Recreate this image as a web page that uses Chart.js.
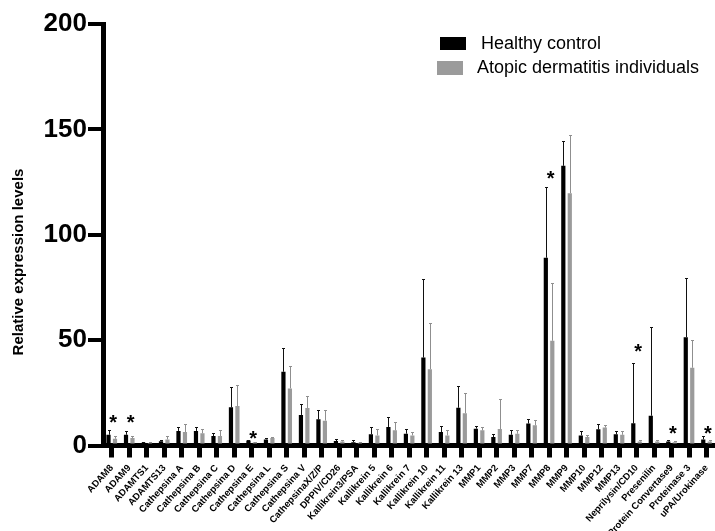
<!DOCTYPE html>
<html>
<head>
<meta charset="utf-8">
<script src="https://cdn.jsdelivr.net/npm/chart.js@4.4.1/dist/chart.umd.min.js"></script>
<style>
  html, body { margin: 0; padding: 0; background: #fff; overflow: hidden; width: 715px; height: 531px; }
  canvas { display: block; }
</style>
</head>
<body>
<canvas id="c" width="720" height="531" style="width:720px;height:531px"></canvas>
<script>
const categories = [
  "ADAM8", "ADAM9", "ADAMTS1", "ADAMTS13", "Cathepsina A", "Cathepsina B", "Cathepsina C",
  "Cathepsina D", "Cathepsina E", "Cathepsina L", "Cathepsina S", "Cathepsina V",
  "CathepsinaX/Z/P", "DPPIV/CD26", "Kallikrein3/PSA", "Kallikrein 5", "Kallikrein 6",
  "Kallikrein 7", "Kallikrein 10", "Kallikrein 11", "Kallikrein 13", "MMP1", "MMP2", "MMP3",
  "MMP7", "MMP8", "MMP9", "MMP10", "MMP12", "MMP13", "Neprilysin/CD10", "Presenilin",
  "Protein Convertase9", "Proteinase 3", "uPA/Urokinase"
];
const healthyControl = [5.1, 5.1, 1.3, 2.0, 6.9, 6.9, 4.5, 18.1, 2.4, 2.9, 35.0, 14.5, 12.4, 2.1, 1.6, 5.3, 8.8, 5.6, 41.7, 6.4, 17.9, 8.0, 4.0, 5.1, 10.4, 89.1, 132.7, 4.8, 7.7, 5.3, 10.5, 14.1, 1.9, 51.4, 2.9];
const healthyControlSD = [2.1, 1.9, 0.5, 0.5, 2.1, 2.1, 1.4, 9.5, 0.3, 0.6, 11.1, 5.1, 4.4, 1.1, 0.8, 3.5, 4.5, 2.4, 37.3, 2.9, 10.3, 1.3, 1.4, 2.1, 2.4, 33.7, 11.8, 1.9, 2.7, 1.4, 28.8, 42.0, 0.5, 28.0, 1.4];
const atopicDermatitis = [3.2, 3.5, 1.2, 2.9, 6.4, 5.8, 4.5, 18.7, 1.5, 3.5, 27.1, 17.8, 11.8, 1.9, 1.3, 4.8, 7.2, 4.8, 36.2, 4.8, 15.3, 7.2, 7.8, 5.6, 9.6, 49.7, 119.7, 4.0, 8.5, 5.1, 1.9, 1.9, 1.6, 36.9, 1.9];
const atopicDermatitisSD = [1.1, 0.8, 0.6, 1.4, 3.7, 2.2, 2.7, 10.2, 0.3, 0.5, 10.8, 5.6, 5.0, 0.7, 0.3, 3.2, 4.0, 1.6, 21.8, 2.4, 9.5, 1.8, 14.3, 1.6, 2.6, 27.3, 27.7, 1.1, 1.4, 1.6, 0.5, 0.5, 0.5, 13.2, 0.5];
// significance markers: category index and the level (axis units) of the asterisk centre
const starIndex = [0, 1, 8, 25, 30, 32, 34];
const starLevel = [13.1, 13.1, 5.9, 128.9, 47.2, 8.3, 8.3];
const yTicks = [0, 50, 100, 150, 200];

const FONT = "'Liberation Sans', Arial, Helvetica, sans-serif";
const BLACK = '#000000';
const GREY = '#9b9b9b';

const errorBars = {
  id: 'errorBars',
  afterDatasetsDraw(chart) {
    const ctx = chart.ctx;
    const y = chart.scales.y;
    const sds = [healthyControlSD, atopicDermatitisSD];
    chart.data.datasets.forEach((ds, di) => {
      const meta = chart.getDatasetMeta(di);
      ctx.save();
      ctx.strokeStyle = di === 0 ? '#111' : '#8f8f8f';
      ctx.lineWidth = 1;
      meta.data.forEach((bar, i) => {
        const v = ds.data[i];
        const top = y.getPixelForValue(v + sds[di][i]);
        const base = y.getPixelForValue(v);
        const x = Math.round(bar.x) + 0.5;
        ctx.beginPath();
        ctx.moveTo(x, base);
        ctx.lineTo(x, Math.round(top) + 0.5);
        ctx.moveTo(x - 1.5, Math.round(top) + 0.5);
        ctx.lineTo(x + 1.5, Math.round(top) + 0.5);
        ctx.stroke();
      });
      ctx.restore();
    });
    // asterisks
    const xs = chart.scales.x;
    ctx.save();
    ctx.fillStyle = '#000';
    ctx.font = 'bold 20px ' + FONT;
    ctx.textAlign = 'center';
    ctx.textBaseline = 'alphabetic';
    starIndex.forEach((ci, k) => {
      const px = xs.getPixelForValue(ci) + 1.5;
      const py = y.getPixelForValue(starLevel[k]);
      ctx.fillText('*', px, py + 11.5);
    });
    ctx.restore();
  }
};

const customLegend = {
  id: 'customLegend',
  afterDraw(chart) {
    const ctx = chart.ctx;
    ctx.save();
    ctx.font = '18px ' + FONT;
    ctx.textBaseline = 'middle';
    ctx.textAlign = 'left';
    const rows = [
      { box: [440, 37, 26, 13], tx: 481, ty: 44 },
      { box: [437, 61, 26, 14], tx: 477, ty: 68.5 }
    ];
    chart.data.datasets.forEach((ds, i) => {
      const r = rows[i];
      ctx.fillStyle = ds.backgroundColor;
      ctx.fillRect(r.box[0], r.box[1], r.box[2], r.box[3]);
      ctx.fillStyle = '#000';
      ctx.fillText(ds.label, r.tx, r.ty);
    });
    ctx.restore();
  }
};

const yTitle = {
  id: 'yTitle',
  afterDraw(chart) {
    const ctx = chart.ctx;
    ctx.save();
    ctx.translate(19, 262);
    ctx.rotate(-Math.PI / 2);
    ctx.font = 'bold 15px ' + FONT;
    ctx.fillStyle = '#000';
    ctx.textAlign = 'center';
    ctx.textBaseline = 'middle';
    ctx.fillText('Relative expression levels', 0, 0);
    ctx.restore();
  }
};

new Chart(document.getElementById('c'), {
  type: 'bar',
  data: {
    labels: categories,
    datasets: [
      { label: 'Healthy control', data: healthyControl, backgroundColor: BLACK, borderWidth: 0 },
      { label: 'Atopic dermatitis individuals', data: atopicDermatitis, backgroundColor: GREY, borderWidth: 0 }
    ]
  },
  options: {
    responsive: false,
    animation: false,
    devicePixelRatio: 1,
    datasets: { bar: { categoryPercentage: 0.74, barPercentage: 0.65 } },
    layout: { padding: { top: 24, left: 0, right: 2, bottom: 0 } },
    plugins: { legend: { display: false }, tooltip: { enabled: false }, title: { display: false } },
    scales: {
      x: {
        offset: true,
        grid: { display: true, offset: false, drawOnChartArea: false, drawTicks: true, tickLength: 12, tickWidth: 5, tickColor: '#000', color: '#000', lineWidth: 5 },
        border: { display: true, width: 5, color: '#000' },
        ticks: { autoSkip: false, minRotation: 48, maxRotation: 48, padding: 5, color: '#000', font: { family: FONT, size: 9.5, weight: 'bold' } },
        afterFit(scale) { scale.height = 85.5; }
      },
      y: {
        min: 0, max: 200,
        afterBuildTicks(scale) { scale.ticks = yTicks.map(v => ({ value: v })); },
        grid: { display: true, drawOnChartArea: false, drawTicks: true, tickLength: 15, tickWidth: 4, tickColor: '#000', color: '#000', lineWidth: 4 },
        border: { display: true, width: 5, color: '#000' },
        ticks: { padding: 1, color: '#000', font: { family: FONT, size: 26, weight: 'bold' } },
        afterFit(scale) { scale.width = 103; }
      }
    }
  },
  plugins: [errorBars, customLegend, yTitle]
});
</script>
</body>
</html>
